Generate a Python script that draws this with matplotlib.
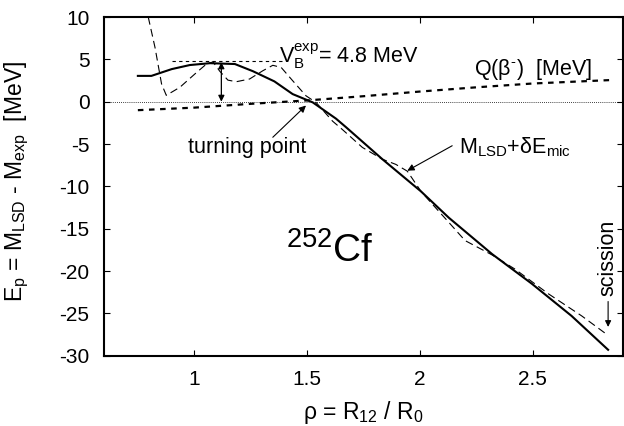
import matplotlib
matplotlib.use("Agg")
import matplotlib.pyplot as plt

plt.rcParams['font.family'] = ['Liberation Sans', 'DejaVu Sans']
plt.rcParams['mathtext.fontset'] = 'custom'
plt.rcParams['mathtext.rm'] = 'Liberation Sans'
plt.rcParams['mathtext.it'] = 'Liberation Sans'
plt.rcParams['mathtext.default'] = 'regular'
plt.rcParams['axes.unicode_minus'] = False

# Macroscopic LSD barrier (solid)
lsd_x = [0.75, 0.81, 0.90, 0.98, 1.07, 1.18, 1.26, 1.355, 1.436, 1.525, 1.628, 1.672,
         1.834, 2.005, 2.128, 2.32, 2.496, 2.672, 2.834]
lsd_y = [3.05, 3.05, 3.85, 4.33, 4.55, 4.45, 3.6, 2.4, 0.9, -0.08, -2.0, -3.0,
         -6.8, -10.6, -13.7, -18.0, -21.5, -25.3, -29.3]

# LSD + shell corrections (thin dashed)
mic_x = [0.796, 0.826, 0.855, 0.876, 0.936, 1.01, 1.054, 1.083, 1.113, 1.149, 1.186,
         1.245, 1.304, 1.348, 1.385, 1.436, 1.495, 1.54, 1.613, 1.657, 1.745, 1.834,
         1.893, 1.944, 2.005, 2.055, 2.128, 2.2, 2.32, 2.42, 2.57, 2.717, 2.834]
mic_y = [10.0, 6.4, 2.1, 0.75, 1.7, 3.45, 4.45, 4.7, 3.6, 2.55, 2.36,
         2.68, 3.66, 4.3, 4.05, 2.48, 0.7, -0.1, -2.3, -3.3, -5.4, -6.8,
         -7.4, -8.2, -10.6, -12.1, -14.25, -16.4, -18.1, -19.75, -22.7, -25.3, -27.6]

# Q(beta-) (thick dashed)
q_x = [0.75, 1.0, 1.25, 1.5, 1.75, 2.0, 2.25, 2.5, 2.84]
q_y = [-1.0, -0.7, -0.25, 0.15, 0.65, 1.2, 1.7, 2.15, 2.55]

vb_exp = 4.8
x_ticks = [1, 1.5, 2, 2.5]
y_ticks = [10, 5, 0, -5, -10, -15, -20, -25, -30]

fig = plt.figure(figsize=(6.24, 4.26), dpi=100)
ax = fig.add_axes([0.1667, 0.165, 0.8317, 0.795])
ax.set_xlim(0.6, 2.9)
ax.set_ylim(-30, 10)

ax.axhline(0, color='black', lw=0.6, ls=(0, (1, 1.5)))
ax.plot(q_x, q_y, color='black', lw=1.6, ls=(0, (2.5, 2.5)))
ax.plot(mic_x, mic_y, color='black', lw=0.8, ls=(0, (7, 4)))
ax.plot(lsd_x, lsd_y, color='black', lw=1.5)
ax.plot([0.9, 1.4], [vb_exp, vb_exp], color='black', lw=0.8, ls=(0, (3, 3)))

ax.annotate('', xy=(1.12, 0.0), xytext=(1.12, 4.65),
            arrowprops=dict(arrowstyle='<|-|>', color='black', lw=0.9,
                            mutation_scale=9, shrinkA=0, shrinkB=0))

fs = 15.5
ax.text(1.377, 5.3, r'V$_B^{exp}$= 4.8 MeV', fontsize=fs, ha='left', va='center')
ax.text(2.238, 3.86, r'Q($\beta^{\text{-}}$)  [MeV]', fontsize=fs, ha='left', va='center')
ax.text(1.232, -5.4, 'turning point', fontsize=fs, ha='center', va='center')
ax.annotate('', xy=(1.495, -0.45), xytext=(1.348, -4.2),
            arrowprops=dict(arrowstyle='-|>', color='black', lw=0.8,
                            mutation_scale=10, shrinkA=0, shrinkB=0))
ax.text(2.172, -5.4, r'M$_{LSD}$+$\delta$E$_{mic}$', fontsize=fs, ha='left', va='center')
ax.annotate('', xy=(1.944, -8.15), xytext=(2.143, -5.2),
            arrowprops=dict(arrowstyle='-|>', color='black', lw=0.8,
                            mutation_scale=10, shrinkA=0, shrinkB=0))
ax.text(1.6, -17.6, r'$^{252}$Cf', fontsize=28, ha='center', va='center')
ax.text(2.834, -18.5, 'scission', fontsize=fs, rotation=90, ha='center', va='center')
ax.annotate('', xy=(2.834, -26.6), xytext=(2.834, -23.6),
            arrowprops=dict(arrowstyle='-|>', color='black', lw=0.8,
                            mutation_scale=9, shrinkA=0, shrinkB=0))

ax.set_xticks(x_ticks)
ax.set_xticklabels(['1', '1.5', '2', '2.5'])
ax.set_yticks(y_ticks)
ax.tick_params(direction='in', top=True, right=True, length=4, width=0.8,
               labelsize=15, pad=10.5)
for s in ax.spines.values():
    s.set_linewidth(1.5)

ax.set_xlabel(r'$\rho$ = R$_{12}$ / R$_0$', fontsize=16.5)
ax.set_ylabel(r'E$_p$ = M$_{LSD}$ - M$_{exp}$  [MeV]', fontsize=16.5)
ax.xaxis.set_label_coords(0.5, -0.128)
ax.yaxis.set_label_coords(-0.14, 0.515)

fig.savefig('out.png', dpi=100)
